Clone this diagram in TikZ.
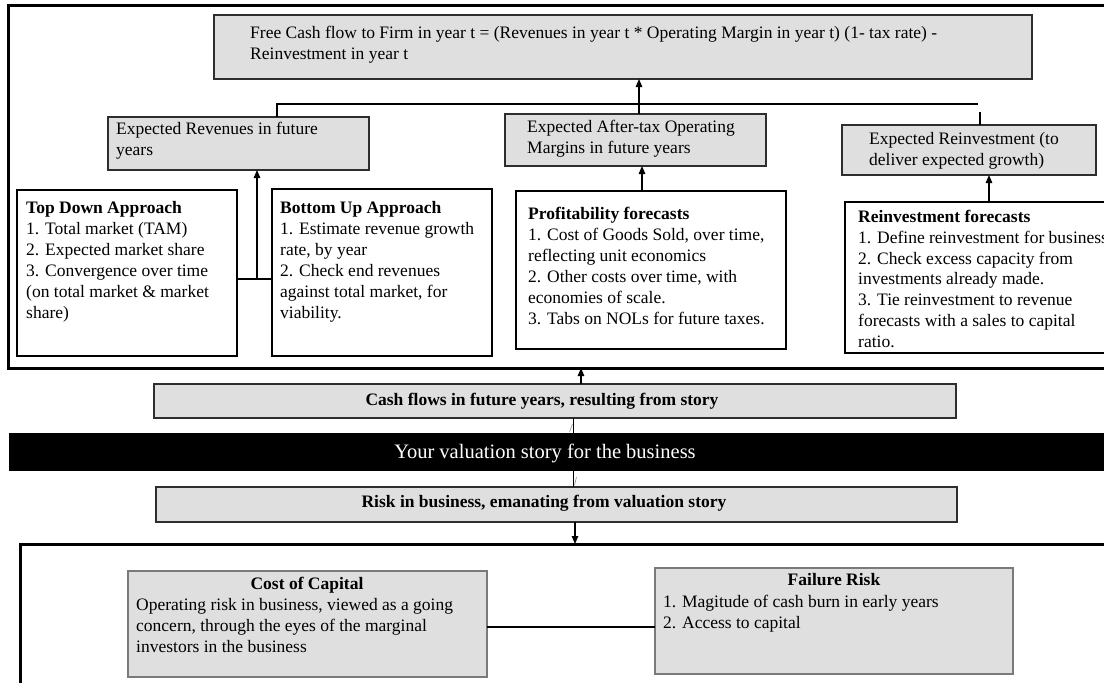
\documentclass[tikz,border=0pt]{standalone}
\usepackage{fontspec}
\setmainfont{Liberation Serif}
\usetikzlibrary{arrows.meta}
\definecolor{boxgray}{HTML}{DFDFDF}
\definecolor{edgegray}{HTML}{7A7A7A}
\definecolor{darkedge}{HTML}{2E2E2E}
\tikzset{
  bx/.style={inner sep=0pt, outer sep=0pt, anchor=north west},
  gbox/.style={bx, draw=darkedge, fill=boxgray, line width=1.3pt},
  wbox/.style={bx, draw=black, fill=white, line width=1.3pt},
  lbox/.style={bx, draw=edgegray, fill=boxgray, line width=1.1pt},
  frame/.style={bx, draw=black, line width=3pt},
  txt/.style={inner sep=0pt, anchor=north west, align=left, font=\fontsize{17.5}{21}\selectfont},
  ctxt/.style={inner sep=0pt, anchor=center, font=\fontsize{17.5}{21}\selectfont\bfseries},
  conn/.style={draw=black, line width=1.2pt},
  thinconn/.style={draw=black, line width=0.7pt},
  arr/.style={conn, -{Triangle[length=8pt,width=6.5pt]}}
}
\begin{document}
\begin{tikzpicture}[x=1pt,y=-1pt]
\clip (0,0) rectangle (1104,683);
\fill[white] (0,0) rectangle (1104,683);

% top frame
\node[frame, minimum width=1115pt, minimum height=363pt] (topframe) at (8,5) {};

% FCFF
\node[gbox, minimum width=818pt, minimum height=64pt] (fcff) at (214,15) {};
\node[txt] (fcfft) at (250,26) {Free Cash flow to Firm in year t = (Revenues in year t * Operating Margin in year t) (1- tax rate) -\\Reinvestment in year t};

% second row
\node[gbox, minimum width=261pt, minimum height=53pt] (rev) at (108,117) {};
\node[txt] (revt) at (116,122) {Expected Revenues in future\\years};
\node[gbox, minimum width=261pt, minimum height=52pt] (mar) at (505,114) {};
\node[txt] (mart) at (527,120) {Expected After-tax Operating\\Margins in future years};
\node[gbox, minimum width=254pt, minimum height=50pt] (erei) at (842,125) {};
\node[txt] (ereit) at (869,132) {Expected Reinvestment (to\\deliver expected growth)};

% third row
\node[wbox, minimum width=220pt, minimum height=166pt] (td) at (17,190) {};
\node[txt] (tdt) at (26,201) {\textbf{Top Down Approach}\\1. Total market (TAM)\\2. Expected market share\\3. Convergence over time\\(on total market \& market\\share)};
\node[wbox, minimum width=220pt, minimum height=167pt] (bu) at (272,189) {};
\node[txt] (but) at (280,201) {\textbf{Bottom Up Approach}\\1. Estimate revenue growth\\rate, by year\\2. Check end revenues\\against total market, for\\viability.};
\node[wbox, minimum width=270pt, minimum height=158pt] (pr) at (516,191) {};
\node[txt] (prt) at (528,207) {\textbf{Profitability forecasts}\\1. Cost of Goods Sold, over time,\\reflecting unit economics\\2. Other costs over time, with\\economies of scale.\\3. Tabs on NOLs for future taxes.};
\node[wbox, minimum width=275pt, minimum height=151pt] (rf) at (845,202) {};
\node[txt, font=\fontsize{17.5}{20.8}\selectfont] (rft) at (858,210) {\textbf{Reinvestment forecasts}\\1. Define reinvestment for business\\2. Check excess capacity from\\investments already made.\\3. Tie reinvestment to revenue\\forecasts with a sales to capital\\ratio.};

% connectors in top frame
\coordinate (busL) at (277,104);
\coordinate (busR) at (978,104);
\coordinate (busM) at (639,104);
\coordinate (stub) at (980,112);
\draw[conn] (rev.north -| busL) -- (busL) -- (busR);
\draw[arr] (busM) -- (busM |- fcff.south);
\draw[conn] (busM) -- (busM |- mar.north);
\draw[conn] (stub) -- (stub |- erei.north);

\coordinate (tdj) at (257,279);
\draw[conn] (td.east |- tdj) -- (bu.west |- tdj);
\draw[arr] (tdj) -- (tdj |- rev.south);

\coordinate (prx) at (642,191);
\draw[arr] (prx) -- (prx |- mar.south);
\coordinate (rfx) at (989,202);
\draw[arr] (rfx) -- (rfx |- erei.south);

% middle band
\node[gbox, minimum width=802pt, minimum height=34pt] (cash) at (154,384) {};
\node[ctxt] (casht) at (542,401) {Cash flows in future years, resulting from story};
\node[bx, fill=black, minimum width=1111pt, minimum height=38pt] (story) at (9,433) {};
\node[inner sep=0pt, anchor=center, text=white, font=\fontsize{20.5}{24}\selectfont] (storyt) at (545,453) {Your valuation story for the business};
\node[gbox, minimum width=801pt, minimum height=35pt] (risk) at (156,487) {};
\node[ctxt] (riskt) at (544,503) {Risk in business, emanating from valuation story};

\coordinate (cx) at (581,384);
\draw[arr] (cx) -- (cx |- topframe.south);
\coordinate (sx) at (573,433);
\draw[thinconn] (sx) -- (sx |- cash.south);
\draw[gray, line width=0.5pt] (569.5,432) -- (572.5,424);
\coordinate (rx) at (573,487);
\draw[thinconn] (rx) -- (rx |- story.south);
\draw[gray, line width=0.5pt] (574.5,485) -- (576.5,477);

% bottom frame
\node[frame, minimum width=1100pt, minimum height=160pt] (botframe) at (20,544) {};
\coordinate (dx) at (575,522);
\draw[arr] (dx) -- (dx |- botframe.north);

\node[lbox, minimum width=359pt, minimum height=106pt] (coc) at (128,571) {};
\node[inner sep=0pt, anchor=north, font=\fontsize{17.5}{21}\selectfont\bfseries] (coct) at (307,577) {Cost of Capital};
\node[txt] (cocb) at (136,598) {Operating risk in business, viewed as a going\\concern, through the eyes of the marginal\\investors in the business};

\node[lbox, minimum width=358pt, minimum height=106pt] (fail) at (655,568) {};
\node[inner sep=0pt, anchor=north, font=\fontsize{17.5}{21}\selectfont\bfseries] (failt) at (834,573) {Failure Risk};
\node[txt] (failb) at (663,595) {1. Magitude of cash burn in early years\\2. Access to capital};

\coordinate (cfj) at (570,627);
\draw[conn] (coc.east |- cfj) -- (fail.west |- cfj);
\end{tikzpicture}
\end{document}
